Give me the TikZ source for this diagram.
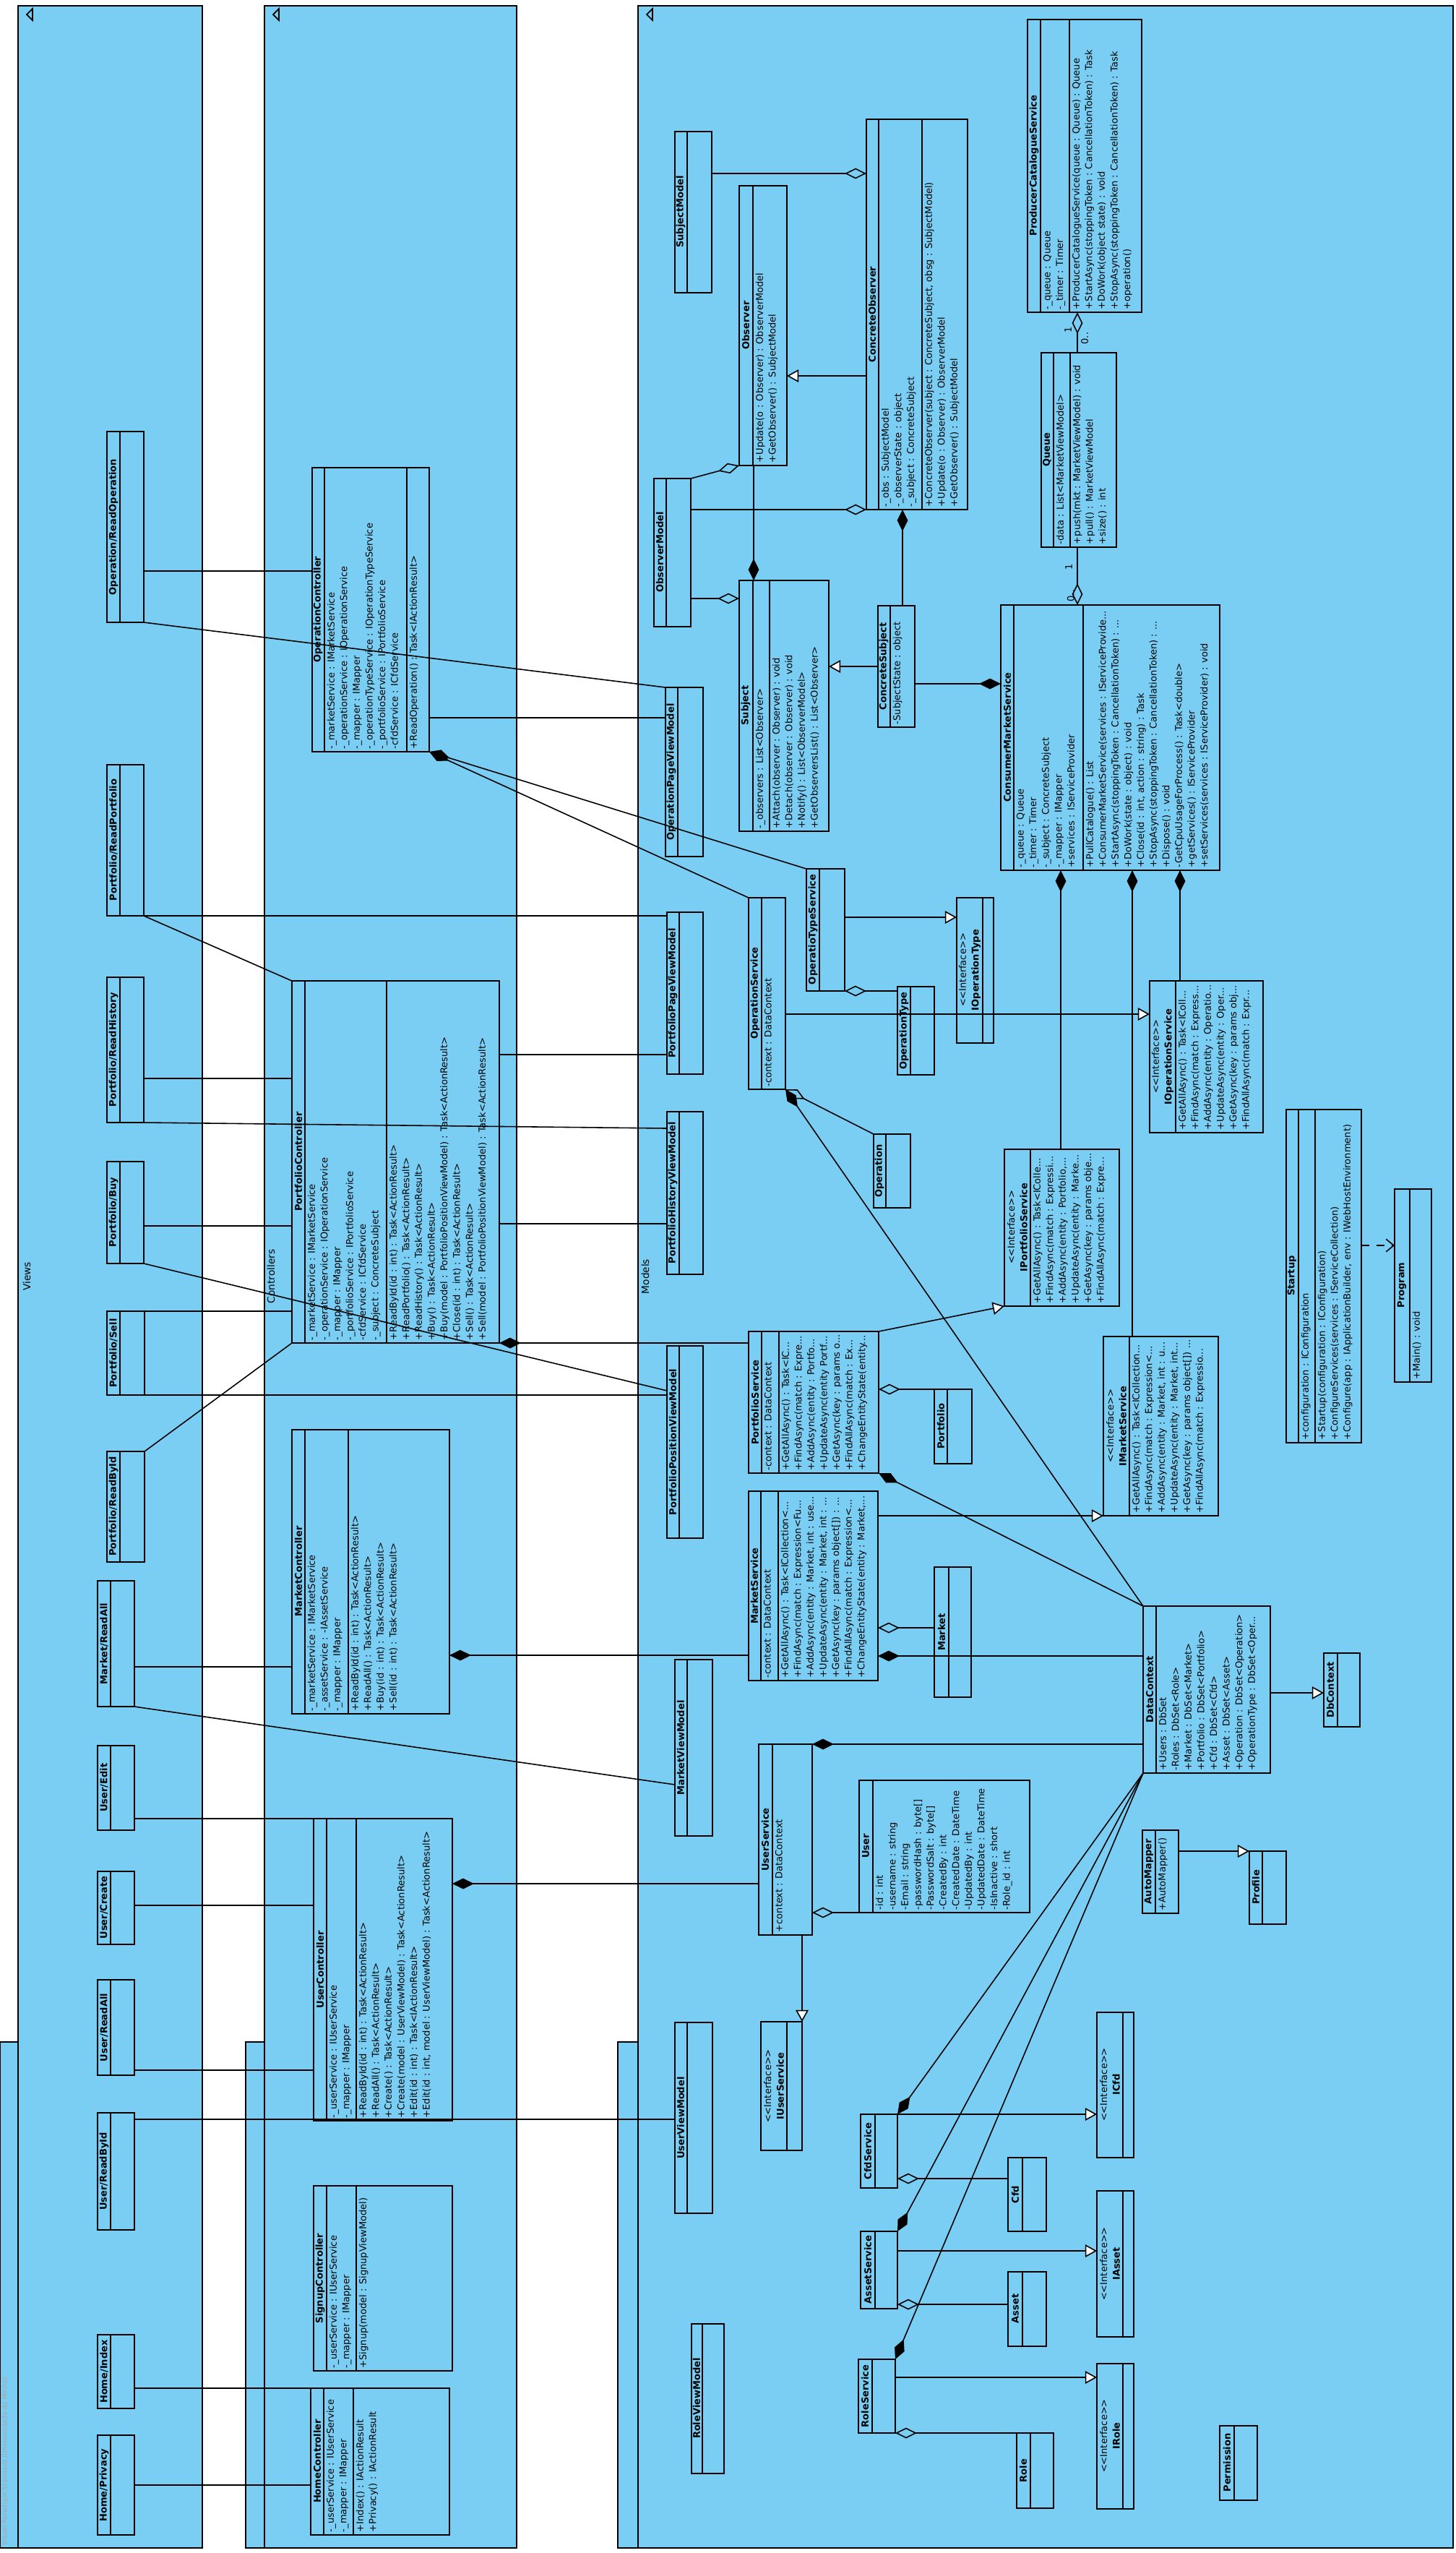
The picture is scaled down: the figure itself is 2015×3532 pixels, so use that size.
\documentclass[tikz,border=0pt]{standalone}
\usepackage{fontspec}
\setmainfont{DejaVu Sans}
\usetikzlibrary{arrows.meta}
\usetikzlibrary{fit}
\definecolor{pkgblue}{HTML}{7ACEF4}
\tikzset{
  pkg/.style={draw=black, fill=pkgblue, line width=0.8pt},
  cls/.style={draw=black, line width=0.6pt, inner sep=0pt, outer sep=0pt},
  cmp/.style={draw=black, line width=0.6pt},
  txt/.style={font=\fontsize{3.7}{5}\selectfont, align=left, inner sep=0.9pt, rotate=90, anchor=north west},
  ttl/.style={font=\fontsize{3.7}{5}\selectfont\bfseries, align=center, inner sep=0pt, rotate=90},
  itl/.style={font=\fontsize{3.7}{5}\selectfont, align=center, inner sep=0pt, rotate=90},
  lbl/.style={font=\fontsize{3.9}{5}\selectfont, inner sep=0pt, rotate=90},
  mult/.style={font=\fontsize{3.7}{5}\selectfont, inner sep=0pt, rotate=90},
  conn/.style={draw=black, line width=0.45pt},
  gen/.style={conn, -{Triangle[open, fill=white, length=4.6pt, width=5pt]}},
  agg/.style={conn, {Diamond[open, length=8.5pt, width=4.2pt]}-},
  comp/.style={conn, {Diamond[length=8.5pt, width=4.2pt]}-},
  dep/.style={conn, dashed, -{Straight Barb[length=3pt, width=5pt]}},
}

\begin{document}
\begin{tikzpicture}[x=0.01cm, y=-0.01cm]
\useasboundingbox (0,0) rectangle (2015,3532);

% packages
\draw[pkg] (25,8) rectangle (280,3525);
\draw[pkg] (0,2825) rectangle (25,3525);
\draw[pkg] (366,8) rectangle (715,3525);
\draw[pkg] (340,2825) rectangle (366,3525);
\draw[pkg] (883,8) rectangle (2011,3525);
\draw[pkg] (855,2825) rectangle (883,3525);
\draw[line width=0.5pt] (45,12) -- (45,28) -- (37,20) -- cycle;
\draw[line width=0.5pt] (386,12) -- (386,28) -- (378,20) -- cycle;
\draw[line width=0.5pt] (903,12) -- (903,28) -- (895,20) -- cycle;
\node[lbl] (lviews) at (37,1766) {Views};
\node[lbl] (lctrl) at (375,1766) {Controllers};
\node[lbl] (lmodels) at (893,1766) {Models};
\node[rotate=90, anchor=west, inner sep=0pt, text=gray!70, font=\fontsize{2.6}{3}\selectfont] (wmark) at (7,3522) {Visual Paradigm Standard (Universidade do Minho)};

% views
\node[cls, fit={(148,597) (199,861)}] (opread) {};
\draw[cmp] (166,597) -- (166,861);
\node[ttl] at (157,729) {Operation/ReadOperation};
\node[cls, fit={(148,1058) (199,1267)}] (pfread) {};
\draw[cmp] (166,1058) -- (166,1267);
\node[ttl] at (157,1162) {Portfolio/ReadPortfolio};
\node[cls, fit={(148,1352) (199,1553)}] (pfhist) {};
\draw[cmp] (166,1352) -- (166,1553);
\node[ttl] at (157,1452) {Portfolio/ReadHistory};
\node[cls, fit={(148,1607) (199,1748)}] (pfbuy) {};
\draw[cmp] (166,1607) -- (166,1748);
\node[ttl] at (157,1677) {Portfolio/Buy};
\node[cls, fit={(148,1814) (200,1930)}] (pfsell) {};
\draw[cmp] (166,1814) -- (166,1930);
\node[ttl] at (157,1872) {Portfolio/Sell};
\node[cls, fit={(148,2008) (200,2161)}] (pfbyid) {};
\draw[cmp] (166,2008) -- (166,2161);
\node[ttl] at (157,2084) {Portfolio/ReadById};
\node[cls, fit={(135,2187) (186,2361)}] (mkall) {};
\draw[cmp] (153,2187) -- (153,2361);
\node[ttl] at (144,2274) {Market/ReadAll};
\node[cls, fit={(135,2415) (186,2532)}] (uedit) {};
\draw[cmp] (153,2415) -- (153,2532);
\node[ttl] at (144,2473) {User/Edit};
\node[cls, fit={(135,2589) (186,2690)}] (ucreate) {};
\draw[cmp] (153,2589) -- (153,2690);
\node[ttl] at (144,2639) {User/Create};
\node[cls, fit={(135,2739) (186,2871)}] (ureadall) {};
\draw[cmp] (153,2739) -- (153,2871);
\node[ttl] at (144,2805) {User/ReadAll};
\node[cls, fit={(135,2923) (186,3085)}] (ureadbyid) {};
\draw[cmp] (153,2923) -- (153,3085);
\node[ttl] at (144,3004) {User/ReadById};
\node[cls, fit={(135,3230) (186,3332)}] (hindex) {};
\draw[cmp] (153,3230) -- (153,3332);
\node[ttl] at (144,3281) {Home/Index};
\node[cls, fit={(135,3369) (186,3507)}] (hpriv) {};
\draw[cmp] (153,3369) -- (153,3507);
\node[ttl] at (144,3438) {Home/Privacy};

% controllers
\node[cls, fit={(432,647) (594,1040)}] (opc) {};
\draw[cmp] (449,647) -- (449,1040);
\draw[cmp] (563,647) -- (563,1040);
\node[ttl] at (440,843) {OperationController};
\node[txt] at (449,1040) {-\_marketService : IMarketService\\-\_operationService : IOperationService\\-\_mapper : IMapper\\-\_operationTypeService : IOperationTypeService\\-\_portfolioService : IPortfolioService\\-cfdService : ICfdService};
\node[txt] at (563,1040) {+ReadOperation() : Task<IActionResult>};

\node[cls, fit={(404,1357) (691,1858)}] (pfc) {};
\draw[cmp] (422,1357) -- (422,1858);
\draw[cmp] (535,1357) -- (535,1858);
\node[ttl] at (413,1607) {PortfolioController};
\node[txt] at (422,1858) {-\_marketService : IMarketService\\-\_operationService : IOperationService\\-\_mapper : IMapper\\-\_portfolioService : IPortfolioService\\-cfdService : ICfdService\\-\_subject : ConcreteSubject};
\node[txt] at (535,1858) {+ReadById(id : int) : Task<ActionResult>\\+ReadPortfolio() : Task<ActionResult>\\+ReadHistory() : Task<ActionResult>\\+Buy() : Task<ActionResult>\\+Buy(model : PortfolioPositionViewModel) : Task<ActionResult>\\+Close(id : int) : Task<ActionResult>\\+Sell() : Task<ActionResult>\\+Sell(model : PortfolioPositionViewModel) : Task<ActionResult>};

\node[cls, fit={(404,1978) (622,2371)}] (mkc) {};
\draw[cmp] (422,1978) -- (422,2371);
\draw[cmp] (482,1978) -- (482,2371);
\node[ttl] at (413,2174) {MarketController};
\node[txt] at (422,2371) {-\_marketService : IMarketService\\-\_assetService : -IAssetService\\-\_mapper : IMapper};
\node[txt] at (482,2371) {+ReadById(id : int) : Task<ActionResult>\\+ReadAll() : Task<ActionResult>\\+Buy(id : int) : Task<ActionResult>\\+Sell(id : int) : Task<ActionResult>};

\node[cls, fit={(434,2516) (626,2934)}] (uc) {};
\draw[cmp] (452,2516) -- (452,2934);
\draw[cmp] (493,2516) -- (493,2934);
\node[ttl] at (443,2725) {UserController};
\node[txt] at (452,2934) {-\_userService : IUserService\\-\_mapper : IMapper};
\node[txt] at (493,2934) {+ReadById(id : int) : Task<ActionResult>\\+ReadAll() : Task<ActionResult>\\+Create() : Task<ActionResult>\\+Create(model : UserViewModel) : Task<ActionResult>\\+Edit(id : int) : Task<IActionResult>\\+Edit(id : int, model : UserViewModel) : Task<ActionResult>};

\node[cls, fit={(434,3024) (626,3280)}] (signc) {};
\draw[cmp] (452,3024) -- (452,3280);
\draw[cmp] (493,3024) -- (493,3280);
\node[ttl] at (443,3152) {SignupController};
\node[txt] at (452,3280) {-\_userService : IUserService\\-\_mapper : IMapper};
\node[txt] at (493,3280) {+Signup(model : SignupViewModel)};

\node[cls, fit={(430,3304) (622,3507)}] (hc) {};
\draw[cmp] (448,3304) -- (448,3507);
\draw[cmp] (489,3304) -- (489,3507);
\node[ttl] at (439,3405) {HomeController};
\node[txt] at (448,3507) {-\_userService : IUserService\\-\_mapper : IMapper};
\node[txt] at (489,3507) {+Index() : IActionResult\\+Privacy() : IActionResult};

% models: observer part
\node[cls, fit={(934,182) (985,405)}] (submodel) {};
\draw[cmp] (951,182) -- (951,405);
\node[ttl] at (942,293) {SubjectModel};
\node[cls, fit={(1023,257) (1089,644)}] (obs) {};
\draw[cmp] (1042,257) -- (1042,644);
\node[ttl] at (1032,450) {Observer};
\node[txt] at (1042,644) {+Update(o : Observer) : ObserverModel\\+GetObserver() : SubjectModel};
\node[cls, fit={(1199,165) (1339,705)}] (cobs) {};
\draw[cmp] (1216,165) -- (1216,705);
\draw[cmp] (1276,165) -- (1276,705);
\node[ttl] at (1207,435) {ConcreteObserver};
\node[txt] at (1216,705) {-\_obs : SubjectModel\\-\_observerState : object\\-\_subject : ConcreteSubject};
\node[txt] at (1276,705) {+ConcreteObserver(subject : ConcreteSubject, obsg : SubjectModel)\\+Update(o : Observer) : ObserverModel\\+GetObserver() : SubjectModel};
\node[cls, fit={(905,662) (956,867)}] (obsmodel) {};
\draw[cmp] (922,662) -- (922,867);
\node[ttl] at (913,764) {ObserverModel};
\node[cls, fit={(1023,803) (1147,1150)}] (subj) {};
\draw[cmp] (1042,803) -- (1042,1150);
\draw[cmp] (1065,803) -- (1065,1150);
\node[ttl] at (1032,976) {Subject};
\node[txt] at (1042,1150) {-\_observers : List<Observer>};
\node[txt] at (1065,1150) {+Attach(observer : Observer) : void\\+Detach(observer : Observer) : void\\+Notify() : List<ObserverModel>\\+GetObserversList() : List<Observer>};
\node[cls, fit={(1215,838) (1266,1006)}] (csubj) {};
\draw[cmp] (1232,838) -- (1232,1006);
\node[ttl] at (1223,922) {ConcreteSubject};
\node[txt] at (1232,1006) {-SubjectState : object};

% models: services
\node[cls, fit={(1422,27) (1580,432)}] (pcs) {};
\draw[cmp] (1440,27) -- (1440,432);
\draw[cmp] (1480,27) -- (1480,432);
\node[ttl] at (1431,229) {ProducerCatalogueService};
\node[txt] at (1440,432) {-\_queue : Queue\\-\_timer : Timer};
\node[txt] at (1480,432) {+ProducerCatalogueService(queue : Queue) : Queue\\+StartAsync(stoppingToken : CancellationToken) : Task\\+DoWork(object state) : void\\+StopAsync(stoppingToken : CancellationToken) : Task\\+operation()};
\node[cls, fit={(1441,488) (1545,757)}] (queue) {};
\draw[cmp] (1458,488) -- (1458,757);
\draw[cmp] (1481,488) -- (1481,757);
\node[ttl] at (1449,622) {Queue};
\node[txt] at (1458,757) {-data : List<MarketViewModel>};
\node[txt] at (1481,757) {+push(mkt : MarketViewModel) : void\\+pull() : MarketViewModel\\+size() : int};
\node[cls, fit={(1385,837) (1688,1204)}] (cms) {};
\draw[cmp] (1403,837) -- (1403,1204);
\draw[cmp] (1499,837) -- (1499,1204);
\node[ttl] at (1394,1020) {ConsumerMarketService};
\node[txt] at (1403,1204) {-\_queue : Queue\\-\_timer : Timer\\-\_subject : ConcreteSubject\\-\_mapper : IMapper\\+services : IServiceProvider};
\node[txt] at (1499,1204) {+PullCatalogue() : List\\+ConsumerMarketService(services : IServiceProvide...\\+StartAsync(stoppingToken : CancellationToken) : ...\\+DoWork(state : object) : void\\+Close(id : int, action : string) : Task\\+StopAsync(stoppingToken : CancellationToken) : ...\\+Dispose() : void\\-GetCpuUsageForProcess() : Task<double>\\+getServices() : IServiceProvider\\+setServices(services : IServiceProvider) : void};

\node[cls, fit={(921,951) (973,1185)}] (opvm) {};
\draw[cmp] (938,951) -- (938,1185);
\node[ttl] at (929,1068) {OperationPageViewModel};
\node[cls, fit={(923,1262) (973,1486)}] (ppvm) {};
\draw[cmp] (940,1262) -- (940,1486);
\node[ttl] at (931,1374) {PortfolioPageViewModel};
\node[cls, fit={(923,1538) (973,1763)}] (phvm) {};
\draw[cmp] (940,1538) -- (940,1763);
\node[ttl] at (931,1650) {PortfolioHistoryViewModel};
\node[cls, fit={(923,1862) (973,2128)}] (pposvm) {};
\draw[cmp] (940,1862) -- (940,2128);
\node[ttl] at (931,1995) {PortfolioPositionViewModel};
\node[cls, fit={(934,2296) (986,2540)}] (mvm) {};
\draw[cmp] (951,2296) -- (951,2540);
\node[ttl] at (942,2418) {MarketViewModel};
\node[cls, fit={(934,2798) (986,3062)}] (uvm) {};
\draw[cmp] (951,2798) -- (951,3062);
\node[ttl] at (942,2930) {UserViewModel};
\node[cls, fit={(957,3215) (1002,3422)}] (rvm) {};
\draw[cmp] (972,3215) -- (972,3422);
\node[ttl] at (964,3318) {RoleViewModel};

\node[cls, fit={(1116,1202) (1169,1371)}] (ots) {};
\draw[cmp] (1134,1202) -- (1134,1371);
\node[ttl] at (1125,1286) {OperatioTypeService};
\node[cls, fit={(1036,1242) (1087,1507)}] (os) {};
\draw[cmp] (1054,1242) -- (1054,1507);
\node[ttl] at (1045,1374) {OperationService};
\node[txt] at (1054,1507) {-context : DataContext};
\node[cls, fit={(1324,1242) (1375,1443)}] (iot) {};
\draw[cmp] (1360,1242) -- (1360,1443);
\node[itl] at (1342,1342) {<\kern0pt<Interface>\kern0pt>\\\textbf{IOperationType}};
\node[cls, fit={(1242,1365) (1293,1487)}] (optype) {};
\draw[cmp] (1260,1365) -- (1260,1487);
\node[ttl] at (1251,1426) {OperationType};
\node[cls, fit={(1591,1357) (1748,1567)}] (ios) {};
\draw[cmp] (1627,1357) -- (1627,1567);
\node[itl] at (1609,1462) {<\kern0pt<Interface>\kern0pt>\\\textbf{IOperationService}};
\node[txt] at (1627,1567) {+GetAllAsync() : Task<IColl...\\+FindAsync(match : Express...\\+AddAsync(entity : Operatio...\\+UpdateAsync(entity : Oper...\\+GetAsync(key : params obj...\\+FindAllAsync(match : Expr...};
\node[cls, fit={(1209,1569) (1260,1671)}] (op) {};
\draw[cmp] (1226,1569) -- (1226,1671);
\node[ttl] at (1217,1620) {Operation};

\node[cls, fit={(1390,1590) (1549,1807)}] (ips) {};
\draw[cmp] (1426,1590) -- (1426,1807);
\node[itl] at (1408,1698) {<\kern0pt<Interface>\kern0pt>\\\textbf{IPortfolioService}};
\node[txt] at (1426,1807) {+GetAllAsync() : Task<IColle...\\+FindAsync(match : Expressi...\\+AddAsync(entity : Portfolio,...\\+UpdateAsync(entity : Marke...\\+GetAsync(key : params obje...\\+FindAllAsync(match : Expre...};
\node[cls, fit={(1527,1849) (1686,2097)}] (ims) {};
\draw[cmp] (1563,1849) -- (1563,2097);
\node[itl] at (1545,1973) {<\kern0pt<Interface>\kern0pt>\\\textbf{IMarketService}};
\node[txt] at (1563,2097) {+GetAllAsync() : Task<ICollection...\\+FindAsync(match : Expression<...\\+AddAsync(entity : Market, int : u...\\+UpdateAsync(entity : Market, int...\\+GetAsync(key : params object[]) ...\\+FindAllAsync(match : Expressio...};
\node[cls, fit={(1036,1842) (1216,2038)}] (ps) {};
\draw[cmp] (1054,1842) -- (1054,2038);
\draw[cmp] (1078,1842) -- (1078,2038);
\node[ttl] at (1045,1940) {PortfolioService};
\node[txt] at (1054,2038) {-context : DataContext};
\node[txt] at (1078,2038) {+GetAllAsync() : Task<IC...\\+FindAsync(match : Expre...\\+AddAsync(entity : Portfo...\\+UpdateAsync(entity Portf...\\+GetAsync(key : params o...\\+FindAllAsync(match : Ex...\\+ChangeEntityState(entity...};
\node[cls, fit={(1293,1922) (1345,2025)}] (pf) {};
\draw[cmp] (1311,1922) -- (1311,2025);
\node[ttl] at (1302,1973) {Portfolio};

\node[cls, fit={(1780,1535) (1884,1996)}] (startup) {};
\draw[cmp] (1797,1535) -- (1797,1996);
\draw[cmp] (1820,1535) -- (1820,1996);
\node[ttl] at (1788,1765) {Startup};
\node[txt] at (1797,1996) {+configuration : IConfiguration};
\node[txt] at (1820,1996) {+Startup(configuration : IConfiguration)\\+ConfigureServices(services : IServiceCollection)\\+Configure(app : IApplicationBuilder, env : IWebHostEnvironment)};
\node[cls, fit={(1930,1645) (1981,1912)}] (prog) {};
\draw[cmp] (1951,1645) -- (1951,1912);
\node[ttl] at (1940,1778) {Program};
\node[txt] at (1951,1912) {+Main() : void};

\node[cls, fit={(1036,2063) (1215,2325)}] (ms) {};
\draw[cmp] (1053,2063) -- (1053,2325);
\draw[cmp] (1077,2063) -- (1077,2325);
\node[ttl] at (1044,2194) {MarketService};
\node[txt] at (1053,2325) {-context : DataContext};
\node[txt] at (1077,2325) {+GetAllAsync() : Task<ICollection<...\\+FindAsync(match : Expression<Fu...\\+AddAsync(entity : Market, int : use...\\+UpdateAsync(entity : Market, int : ...\\+GetAsync(key : params object[]) : ...\\+FindAllAsync(match : Expression<...\\+ChangeEntityState(entity : Market,...};
\node[cls, fit={(1293,2168) (1344,2348)}] (mk) {};
\draw[cmp] (1313,2168) -- (1313,2348);
\node[ttl] at (1303,2258) {Market};
\node[cls, fit={(1582,2222) (1758,2453)}] (dc) {};
\draw[cmp] (1600,2222) -- (1600,2453);
\node[ttl] at (1591,2337) {DataContext};
\node[txt] at (1600,2453) {+Users : DbSet\\-Roles : DbSet<Role>\\+Market : DbSet<Market>\\+Portfolio : DbSet<Portfolio>\\+Cfd : DbSet<Cfd>\\+Asset : DbSet<Asset>\\+Operation : DbSet<Operation>\\+OperationType : DbSet<Oper...};
\node[cls, fit={(1832,2287) (1882,2389)}] (dbc) {};
\draw[cmp] (1851,2287) -- (1851,2389);
\node[ttl] at (1841,2338) {DbContext};

\node[cls, fit={(1050,2413) (1124,2677)}] (us) {};
\draw[cmp] (1069,2413) -- (1069,2677);
\node[ttl] at (1059,2545) {UserService};
\node[txt] at (1069,2677) {+context : DataContext};
\node[cls, fit={(1189,2463) (1425,2646)}] (user) {};
\draw[cmp] (1208,2463) -- (1208,2646);
\node[ttl] at (1198,2554) {User};
\node[txt] at (1208,2646) {-id : int\\-username : string\\-Email : string\\-passwordHash : byte[]\\-PasswordSalt : byte[]\\-CreatedBy : int\\-CreatedDate : DateTime\\-UpdatedBy : int\\-UpdatedDate : DateTime\\-IsInactive : short\\-Role\_id : int};
\node[cls, fit={(1581,2532) (1631,2647)}] (am) {};
\draw[cmp] (1599,2532) -- (1599,2647);
\node[ttl] at (1590,2589) {AutoMapper};
\node[txt] at (1599,2647) {+AutoMapper()};
\node[cls, fit={(1729,2561) (1780,2662)}] (prof) {};
\draw[cmp] (1747,2561) -- (1747,2662);
\node[ttl] at (1738,2611) {Profile};
\node[cls, fit={(1053,2797) (1110,2975)}] (ius) {};
\draw[cmp] (1089,2797) -- (1089,2975);
\node[itl] at (1071,2886) {<\kern0pt<Interface>\kern0pt>\\\textbf{IUserService}};

\node[cls, fit={(1518,2784) (1569,2985)}] (icfd) {};
\draw[cmp] (1554,2784) -- (1554,2985);
\node[itl] at (1536,2884) {<\kern0pt<Interface>\kern0pt>\\\textbf{ICfd}};
\node[cls, fit={(1191,2925) (1242,3027)}] (cfds) {};
\draw[cmp] (1211,2925) -- (1211,3027);
\node[ttl] at (1201,2976) {CfdService};
\node[cls, fit={(1395,2985) (1448,3087)}] (cfd) {};
\draw[cmp] (1415,2985) -- (1415,3087);
\node[ttl] at (1405,3036) {Cfd};
\node[cls, fit={(1191,3087) (1242,3194)}] (assets) {};
\draw[cmp] (1211,3087) -- (1211,3194);
\node[ttl] at (1201,3140) {AssetService};
\node[cls, fit={(1518,3031) (1569,3233)}] (iasset) {};
\draw[cmp] (1554,3031) -- (1554,3233);
\node[itl] at (1536,3132) {<\kern0pt<Interface>\kern0pt>\\\textbf{IAsset}};
\node[cls, fit={(1395,3143) (1448,3246)}] (asset) {};
\draw[cmp] (1415,3143) -- (1415,3246);
\node[ttl] at (1405,3194) {Asset};
\node[cls, fit={(1188,3264) (1239,3366)}] (roles) {};
\draw[cmp] (1207,3264) -- (1207,3366);
\node[ttl] at (1197,3315) {RoleService};
\node[cls, fit={(1518,3270) (1569,3471)}] (irole) {};
\draw[cmp] (1554,3270) -- (1554,3471);
\node[itl] at (1536,3370) {<\kern0pt<Interface>\kern0pt>\\\textbf{IRole}};
\node[cls, fit={(1407,3366) (1458,3470)}] (role) {};
\draw[cmp] (1426,3366) -- (1426,3470);
\node[ttl] at (1416,3418) {Role};
\node[cls, fit={(1688,3356) (1740,3459)}] (perm) {};
\draw[cmp] (1708,3356) -- (1708,3459);
\node[ttl] at (1698,3407) {Permission};

% views to controllers and view models
\draw[conn] (opread.east |- 0,790) -- (opc.west |- 0,790);
\draw[conn] (opread.south east) -- (opvm.north west);
\draw[conn] (pfread.south east) -- (pfread.south east -| ppvm.west);
\draw[conn] (pfread.south east) -- (pfc.north west);
\draw[conn] (pfhist.east |- 0,1492) -- (pfc.west |- 0,1492);
\draw[conn] (pfhist.south east) -- (phvm.west |- 0,1561);
\draw[conn] (pfbuy.east |- 0,1696) -- (pfc.west |- 0,1696);
\draw[conn] (pfbuy.south east) -- (pposvm.west |- 0,1924);
\draw[conn] (pfsell.north east) -- (pfsell.north east -| pfc.west);
\draw[conn] (pfsell.south east) -- (pfsell.south east -| pposvm.west);
\draw[conn] (pfbyid.north east) -- (pfc.south west);
\draw[conn] (mkall.east |- 0,2306) -- (mkc.west |- 0,2306);
\draw[conn] (mkall.south east) -- (mvm.west |- 0,2469);
\draw[conn] (uc.north west -| uedit.east) -- (uc.north west);
\draw[conn] (ucreate.east |- 0,2636) -- (uc.west |- 0,2636);
\draw[conn] (ureadall.east |- 0,2864) -- (uc.west |- 0,2864);
\draw[conn] (ureadbyid.east |- 0,2932) -- (uvm.west |- 0,2932);
\draw[conn] (hc.north west -| hindex.east) -- (hc.north west);
\draw[conn] (hpriv.east |- 0,3438) -- (hc.west |- 0,3438);

% controllers to models
\draw[conn] (opc.east |- 0,993) -- (opvm.west |- 0,993);
\draw[comp] (opc.south east) -- (ots.north west);
\draw[comp] (opc.south east) -- (os.north west);
\draw[conn] (pfc.east |- 0,1459) -- (ppvm.west |- 0,1459);
\draw[conn] (pfc.east |- 0,1693) -- (phvm.west |- 0,1693);
\draw[comp] (pfc.south east) -- (pfc.south east -| ps.west);
\draw[comp] (mkc.east |- 0,2290) -- (ms.west |- 0,2290);
\draw[comp] (uc.east |- 0,2606) -- (us.west |- 0,2606);

% models
\draw[agg] (cobs.west |- 0,240) -- (submodel.east |- 0,240);
\draw[gen] (cobs.west |- 0,520) -- (obs.east |- 0,520);
\draw[agg] (obs.south west) -- (obsmodel.north east);
\draw[agg] (cobs.south west) -- (cobs.south west -| obsmodel.east);
\draw[agg] (subj.west |- 0,828) -- (obsmodel.east |- 0,828);
\draw[comp] (subj.north -| 1043,0) -- (obs.south -| 1043,0);
\draw[comp] (cobs.south -| 1249,0) -- (csubj.north -| 1249,0);
\draw[gen] (csubj.west |- 0,922) -- (subj.east |- 0,922);
\draw[comp] (cms.west |- 0,946) -- (csubj.east |- 0,946);
\draw[agg] (pcs.south -| 1491,0) -- (queue.north -| 1491,0);
\draw[agg] (cms.north -| 1491,0) -- (queue.south -| 1491,0);
\node[mult] at (1478,456) {1};
\node[mult] at (1501,468) {0..};
\node[mult] at (1479,784) {1};
\node[mult] at (1482,824) {0..};
\draw[comp] (cms.south -| 1468,0) -- (ips.north -| 1468,0);
\draw[comp] (cms.south -| 1567,0) -- (ims.north -| 1567,0);
\draw[comp] (cms.south -| 1633,0) -- (ios.north -| 1633,0);
\draw[gen] (ots.east |- 0,1269) -- (iot.west |- 0,1269);
\draw[agg] (ots.south east) -- (ots.south east -| optype.west);
\draw[gen] (os.east |- 0,1403) -- (ios.west |- 0,1403);
\draw[agg] (os.south east) -- (op.north west);
\draw[comp] (os.south east) -- (dc.north west);
\draw[gen] (ps.north east) -- (ips.south west);
\draw[agg] (ps.east |- 0,1922) -- (pf.north west);
\draw[comp] (ps.south east) -- (dc.north west);
\draw[gen] (ms.east |- 0,2097) -- (ims.south west);
\draw[agg] (ms.east |- 0,2252) -- (mk.west |- 0,2252);
\draw[comp] (ms.east |- 0,2291) -- (dc.west |- 0,2291);
\draw[gen] (dc.east |- 0,2342) -- (dbc.west |- 0,2342);
\draw[comp] (us.north east) -- (us.north east -| dc.west);
\draw[agg] (us.east |- user.south) -- (user.south west);
\draw[gen] (us.south -| 1110,0) -- (ius.north -| 1110,0);
\draw[gen] (am.east |- 0,2561) -- (prof.north west);
\draw[comp] (cfds.north east) -- (dc.south west);
\draw[comp] (assets.north east) -- (dc.south west);
\draw[comp] (roles.north east) -- (dc.south west);
\draw[gen] (cfds.north east) -- (cfds.north east -| icfd.west);
\draw[agg] (cfds.east |- 0,3014) -- (cfd.west |- 0,3014);
\draw[gen] (assets.east |- 0,3114) -- (iasset.west |- 0,3114);
\draw[agg] (assets.east |- 0,3188) -- (asset.west |- 0,3188);
\draw[gen] (roles.east |- 0,3289) -- (irole.west |- 0,3289);
\draw[agg] (roles.south east) -- (role.north west);
\draw[dep] (startup.east |- 0,1723) -- (prog.west |- 0,1723);

\end{tikzpicture}
\end{document}
